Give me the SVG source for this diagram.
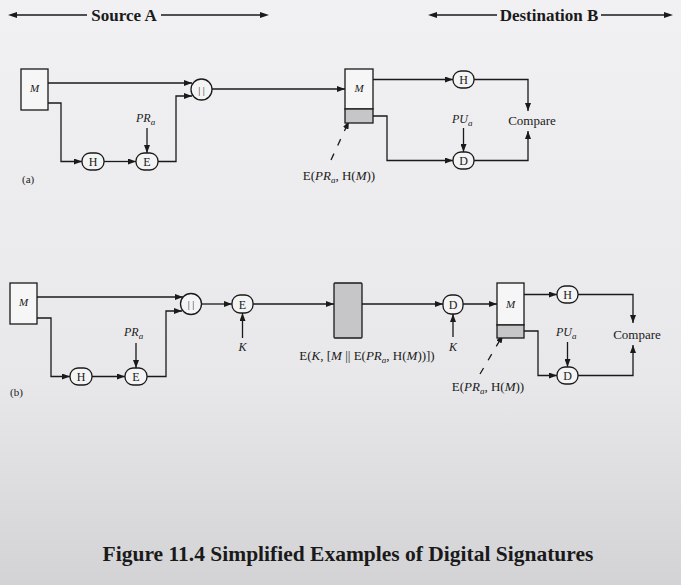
<svg xmlns="http://www.w3.org/2000/svg" width="681" height="585" viewBox="0 0 681 585">
<defs>
<linearGradient id="bg" x1="0" y1="0" x2="0" y2="1">
<stop offset="0" stop-color="#f1f0f2"/>
<stop offset="0.65" stop-color="#e8e8ea"/>
<stop offset="1" stop-color="#d3d3d6"/>
</linearGradient>
<marker id="ah" viewBox="0 0 8 6" refX="8" refY="3" markerWidth="8" markerHeight="6" markerUnits="userSpaceOnUse" orient="auto">
<path d="M0,0 L8,3 L0,6 z" fill="#1a1a1a"/>
</marker>
</defs>
<style>
.ln{fill:none;stroke:#1a1a1a;stroke-width:1.3}
.ar{fill:none;stroke:#1a1a1a;stroke-width:1.3;marker-end:url(#ah)}
.dash{fill:none;stroke:#1a1a1a;stroke-width:1.3;stroke-dasharray:7 9;marker-end:url(#ah)}
.nd{fill:#f4f4f5;stroke:#1a1a1a;stroke-width:1.3}
.box{fill:#f6f6f7;stroke:#1a1a1a;stroke-width:1.3}
.gray{fill:#c6c6c8;stroke:#1a1a1a;stroke-width:1.3}
text{font-family:"Liberation Serif","Times New Roman",serif;fill:#1a1a1a}
.nl{font-size:12px;text-anchor:middle}
.bar{font-size:10px;text-anchor:middle}
.it{font-style:italic}
.lb{font-size:12px}
.sg{font-size:13px;text-anchor:middle}
.hd{font-size:17px;font-weight:bold;text-anchor:middle}
</style>
<rect x="0" y="0" width="681" height="585" fill="url(#bg)"/>

<g id="headers">
<line class="ln" x1="16" y1="15" x2="87" y2="15"/>
<path d="M8,15 L17,12 L17,18 z" fill="#1a1a1a"/>
<text class="hd" x="124" y="21">Source A</text>
<line class="ln" x1="161" y1="15" x2="260" y2="15"/>
<path d="M269,15 L260,12 L260,18 z" fill="#1a1a1a"/>
<line class="ln" x1="437" y1="15" x2="497" y2="15"/>
<path d="M428,15 L437,12 L437,18 z" fill="#1a1a1a"/>
<text class="hd" x="549" y="21">Destination B</text>
<line class="ln" x1="601" y1="15" x2="664" y2="15"/>
<path d="M673,15 L664,12 L664,18 z" fill="#1a1a1a"/>
</g>

<g id="connectors">
<!-- (a) -->
<path class="ar" d="M48,83 L192,83"/>
<path class="ar" d="M48,103 L61,103 L61,161.5 L82,161.5"/>
<path class="ar" d="M104,161.5 L136,161.5"/>
<path class="ar" d="M147,128 L147,153"/>
<path class="ar" d="M158,161.5 L176,161.5 L176,96 L192,96"/>
<path class="ar" d="M212,89 L345,89"/>
<path class="ar" d="M373,79.5 L453,79.5"/>
<path class="ar" d="M474,79.5 L528,79.5 L528,111"/>
<path class="ar" d="M463.5,128 L463.5,152"/>
<path class="ar" d="M373,116 L387,116 L387,160.5 L453,160.5"/>
<path class="ar" d="M474,160.5 L528,160.5 L528,131"/>
<path class="dash" d="M331,160 L349,121"/>
<!-- (b) -->
<path class="ar" d="M37,297 L183,297"/>
<path class="ar" d="M37,318 L51,318 L51,376.5 L70,376.5"/>
<path class="ar" d="M92,376.5 L125,376.5"/>
<path class="ar" d="M136,343 L136,368"/>
<path class="ar" d="M147,376.5 L166,376.5 L166,311 L182,311"/>
<path class="ar" d="M201.5,304 L232,304"/>
<path class="ar" d="M242.5,338 L242.5,313"/>
<path class="ar" d="M253,304 L334,304"/>
<path class="ar" d="M362,304 L443,304"/>
<path class="ar" d="M453,337 L453,314"/>
<path class="ar" d="M463,304 L497,304"/>
<path class="ar" d="M524,294.5 L557,294.5"/>
<path class="ar" d="M578,294.5 L633,294.5 L633,323"/>
<path class="ar" d="M567.5,342 L567.5,367"/>
<path class="ar" d="M524,331 L538,331 L538,375.5 L557,375.5"/>
<path class="ar" d="M578,375.5 L633,375.5 L633,345"/>
<path class="dash" d="M480,374 L503,335"/>
</g>

<!-- (a) nodes -->
<g id="a-M">
<rect class="box" x="21" y="69" width="27" height="41"/>
<text class="nl it" x="34.5" y="92" style="font-size:11px">M</text>
</g>
<g id="a-H">
<rect class="nd" x="82" y="153" width="22" height="17" rx="8"/>
<text class="nl" x="93" y="166">H</text>
</g>
<g id="a-E">
<rect class="nd" x="136" y="153" width="22" height="17" rx="8"/>
<text class="nl" x="147" y="166">E</text>
</g>
<g id="a-PR">
<text class="lb it" x="136" y="122">PR<tspan font-size="9" dy="3">a</tspan></text>
</g>
<g id="a-concat">
<circle class="nd" cx="201.5" cy="89.5" r="10.5"/>
<text class="bar" x="201.5" y="93.5">| |</text>
</g>
<g id="a-label">
<text x="22" y="183" style="font-size:11px">(a)</text>
</g>
<g id="a-B">
<rect class="box" x="345" y="69" width="28" height="40"/>
<rect class="gray" x="345" y="109" width="28" height="14"/>
<text class="nl it" x="359" y="92" style="font-size:11px">M</text>
</g>
<g id="a-sig">
<text class="sg" x="339" y="180">E(<tspan font-style="italic">PR</tspan><tspan font-style="italic" font-size="9" dy="3">a</tspan><tspan dy="-3">, H(</tspan><tspan font-style="italic">M</tspan>))</text>
</g>
<g id="a-H2">
<rect class="nd" x="453" y="71" width="21" height="17" rx="8"/>
<text class="nl" x="463.5" y="84">H</text>
</g>
<g id="a-D">
<rect class="nd" x="453" y="152" width="21" height="17" rx="8"/>
<text class="nl" x="463.5" y="165">D</text>
</g>
<g id="a-PU">
<text class="lb it" x="452" y="123">PU<tspan font-size="9" dy="3">a</tspan></text>
</g>
<g id="a-compare">
<text x="532" y="125" text-anchor="middle" style="font-size:13px">Compare</text>
</g>

<!-- (b) nodes -->
<g id="b-M">
<rect class="box" x="10" y="283" width="27" height="41"/>
<text class="nl it" x="23.5" y="306" style="font-size:11px">M</text>
</g>
<g id="b-H">
<rect class="nd" x="70" y="368" width="22" height="17" rx="8"/>
<text class="nl" x="81" y="381">H</text>
</g>
<g id="b-E">
<rect class="nd" x="125" y="368" width="22" height="17" rx="8"/>
<text class="nl" x="136" y="381">E</text>
</g>
<g id="b-PR">
<text class="lb it" x="124" y="336">PR<tspan font-size="9" dy="3">a</tspan></text>
</g>
<g id="b-concat">
<circle class="nd" cx="191" cy="304" r="10.5"/>
<text class="bar" x="191" y="308">| |</text>
</g>
<g id="b-label">
<text x="10" y="396" style="font-size:11px">(b)</text>
</g>
<g id="b-E2">
<rect class="nd" x="232" y="295" width="21" height="18" rx="8"/>
<text class="nl" x="242.5" y="308.5">E</text>
</g>
<g id="b-K1">
<text class="nl it" x="242.5" y="351">K</text>
</g>
<g id="b-cipher">
<rect class="gray" x="334" y="283" width="28" height="55" rx="1"/>
</g>
<g id="b-cipher-label">
<text class="sg" x="367" y="360">E(<tspan font-style="italic">K</tspan>, [<tspan font-style="italic">M</tspan> || E(<tspan font-style="italic">PR</tspan><tspan font-style="italic" font-size="9" dy="3">a</tspan><tspan dy="-3">, H(</tspan><tspan font-style="italic">M</tspan>))])</text>
</g>
<g id="b-D">
<rect class="nd" x="443" y="295" width="20" height="19" rx="8"/>
<text class="nl" x="453" y="308.5">D</text>
</g>
<g id="b-K2">
<text class="nl it" x="453" y="351">K</text>
</g>
<g id="b-B">
<rect class="box" x="497" y="283" width="27" height="42"/>
<rect class="gray" x="497" y="325" width="27" height="13"/>
<text class="nl it" x="510.5" y="308" style="font-size:11px">M</text>
</g>
<g id="b-sig">
<text class="sg" x="488" y="391">E(<tspan font-style="italic">PR</tspan><tspan font-style="italic" font-size="9" dy="3">a</tspan><tspan dy="-3">, H(</tspan><tspan font-style="italic">M</tspan>))</text>
</g>
<g id="b-H2">
<rect class="nd" x="557" y="286" width="21" height="17" rx="8"/>
<text class="nl" x="567.5" y="299">H</text>
</g>
<g id="b-D2">
<rect class="nd" x="557" y="367" width="21" height="17" rx="8"/>
<text class="nl" x="567.5" y="380">D</text>
</g>
<g id="b-PU">
<text class="lb it" x="556" y="336">PU<tspan font-size="9" dy="3">a</tspan></text>
</g>
<g id="b-compare">
<text x="637" y="339" text-anchor="middle" style="font-size:13px">Compare</text>
</g>

<g id="title">
<text x="348" y="561" text-anchor="middle" style="font-size:21.5px;font-weight:bold">Figure 11.4 Simplified Examples of Digital Signatures</text>
</g>
</svg>
